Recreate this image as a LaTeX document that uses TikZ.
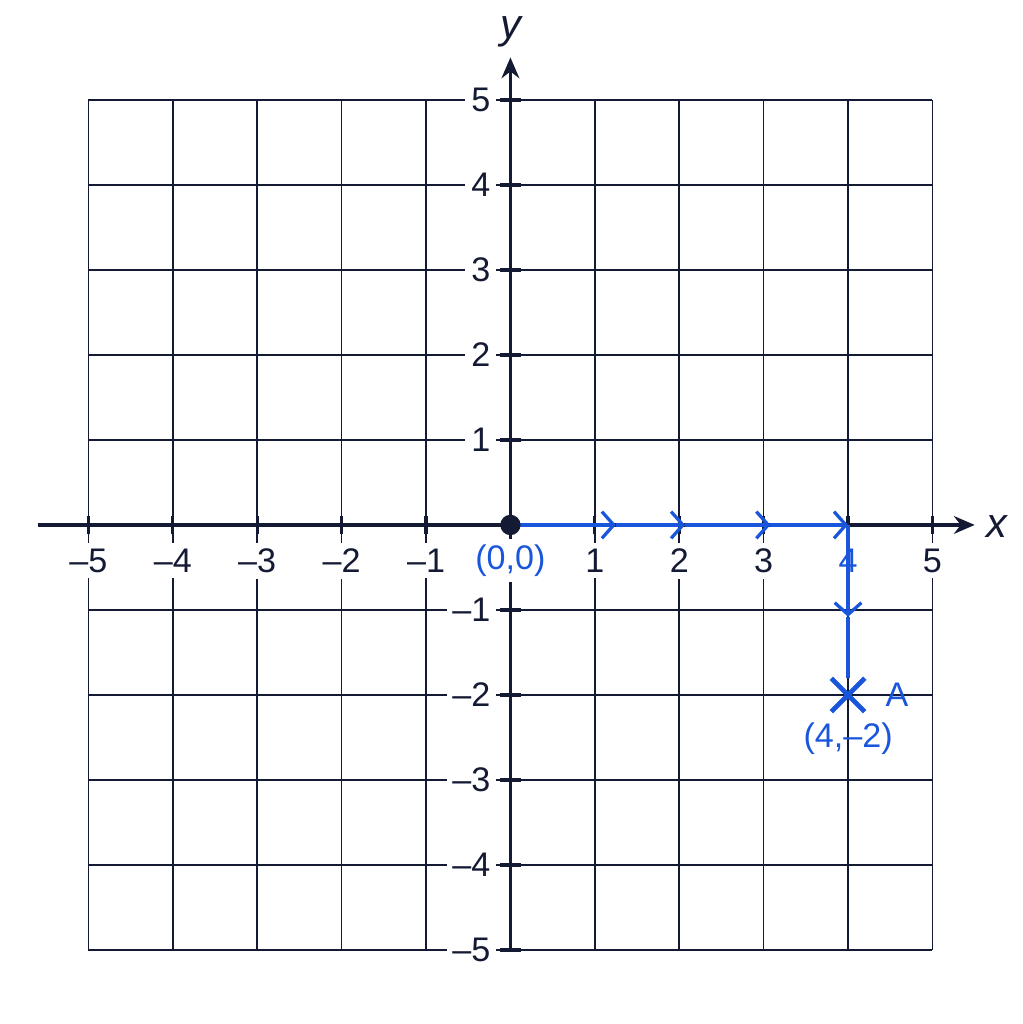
\documentclass[tikz,border=0pt]{standalone}
\usepackage{fontspec}
\setmainfont{Liberation Sans}
\usetikzlibrary{arrows.meta, positioning, shapes.misc}
\definecolor{navy}{RGB}{20,26,51}
\definecolor{pathblue}{RGB}{26,86,219}
\tikzset{
    gridline/.style={
        draw=navy,
        line width=0.55pt
    },
    axis/.style={
        draw=navy,
        line width=1.1pt,
        -{Stealth[length=7pt,width=6pt]}
    },
    tick/.style={
        draw=navy,
        line width=1.1pt
    },
    ticklabel/.style={
        fill=white,
        text=navy,
        inner sep=2pt,
        font=\fontsize{11.5}{13}\selectfont
    },
    bluearrow/.style={
        draw=pathblue,
        line width=1.1pt,
        -{Straight Barb[length=4pt,width=9pt,line width=1.1pt]}
    },
    blueline/.style={
        draw=pathblue,
        line width=1.1pt
    },
    bluelabel/.style={
        text=pathblue,
        font=\fontsize{11.5}{13}\selectfont
    }
}
\begin{document}
\begin{tikzpicture}[y=1.007cm]
\useasboundingbox (-6.047,-5.871) rectangle (6.071,6.176);

% Grid
\foreach \i in {-5,...,5} {
    \draw[gridline] (\i,-5) -- (\i,5);
    \draw[gridline] (-5,\i) -- (5,\i);
}

% Tick labels
\foreach \i in {-5,-4,-3,-2,-1,1,2,3,5}
    \node[ticklabel] (x\i) at (\i,-0.42) {\ifnum\i<0 –\the\numexpr-\i\relax\else\i\fi};
\node[ticklabel, text=pathblue] (x4) at (4,-0.42) {4};
\foreach \i in {-5,-4,-3,-2,-1,1,2,3,4,5}
    \node[ticklabel, anchor=east] (y\i) at (-0.16,\i) {\ifnum\i<0 –\the\numexpr-\i\relax\else\i\fi};

% Axes
\coordinate (xstart) at (-5.6,0);
\coordinate (xend) at (5.5,0);
\coordinate (ystart) at (0,-5);
\coordinate (yend) at (0,5.5);
\draw[axis] (xstart) -- (xend);
\draw[axis] (ystart) -- (yend);
\node[text=navy, font=\fontsize{14}{16}\selectfont\itshape] (xlabel) at (5.76,-0.02) {x};
\node[text=navy, font=\fontsize{14}{16}\selectfont\itshape] (ylabel) at (0,5.8) {y};

% Ticks
\foreach \i in {-5,...,5} {
    \ifnum\i=0\else
    \draw[tick] (\i,-0.11) -- (\i,0.11);
    \draw[tick] (-0.12,\i) -- (0.12,\i);
    \fi
}

% Path to A
\coordinate (O) at (0,0);
\coordinate (m1) at (1.25,0);
\coordinate (m2) at (2.07,0);
\coordinate (m3) at (3.08,0);
\coordinate (P) at (4,0);
\coordinate (m4) at (4,-1.08);
\node[cross out, draw=pathblue, line width=1.6pt, minimum size=0.34cm] (A) at (4,-2) {};
\foreach \a/\b in {O/m1, m1/m2, m2/m3, m3/P, P/m4}
    \draw[bluearrow] (\a) -- (\b);
\draw[blueline] (m4) -- (A);
\fill[navy] (O) circle (0.12);

% Labels
\node[bluelabel, fill=white, inner sep=2pt] (olabel) at (0,-0.42) {(0,0)};
\node[bluelabel] (alabel) at (4.58,-2) {A};
\node[bluelabel] (acoord) at (4,-2.52) {(4,–2)};

\end{tikzpicture}
\end{document}
